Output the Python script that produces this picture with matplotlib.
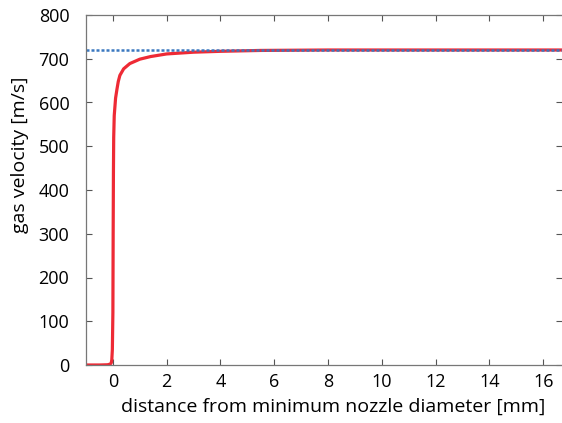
import matplotlib
matplotlib.use("Agg")
import matplotlib.pyplot as plt

plt.rcParams["font.family"] = ["Open Sans", "DejaVu Sans"]

# gas velocity along the nozzle axis
distance_mm = [-1.0, -0.5, -0.2, -0.1, -0.06, -0.04, -0.02, 0.0, 0.01, 0.02,
               0.03, 0.05, 0.1, 0.15, 0.2, 0.26, 0.4, 0.63, 1.0, 1.4,
               2.0, 3.0, 4.0, 5.5, 8.0, 12.0, 16.7]
velocity = [0, 0, 0.5, 2, 5, 12, 35, 120, 300, 440,
            520, 570, 610, 630, 648, 662, 677, 689, 699, 705,
            711, 715, 717, 719, 720, 720, 720]
exit_velocity = 720

fig = plt.figure(figsize=(5.62, 4.23), dpi=100)
ax = fig.add_axes([86 / 562, 58 / 423, 476 / 562, 350 / 423])

ax.plot(distance_mm, velocity, color="#ee2a35", lw=2.3, solid_capstyle="round")
ax.axhline(exit_velocity, color="#3a78c0", lw=1.8, ls=(0, (1.2, 0.8)))

ax.set_xlim(-1, 16.7)
ax.set_ylim(0, 800)
ax.set_xticks(range(0, 17, 2))
ax.set_yticks(range(0, 801, 100))
ax.tick_params(direction="in", length=4, width=0.8, color="#555555",
               top=True, right=True, labelsize=13, pad=6)
ax.tick_params(axis="y", pad=12)
for side in ["left", "bottom", "top"]:
    ax.spines[side].set_color("#777777")
    ax.spines[side].set_linewidth(0.9)
ax.spines["right"].set_visible(False)

ax.set_xlabel("distance from minimum nozzle diameter [mm]", fontsize=14, labelpad=2)
ax.set_ylabel("gas velocity [m/s]", fontsize=14)
ax.yaxis.set_label_coords(-0.12, 0.6)
ax.xaxis.set_label_coords(0.52, -0.095)

fig.savefig("out.png", dpi=100)
